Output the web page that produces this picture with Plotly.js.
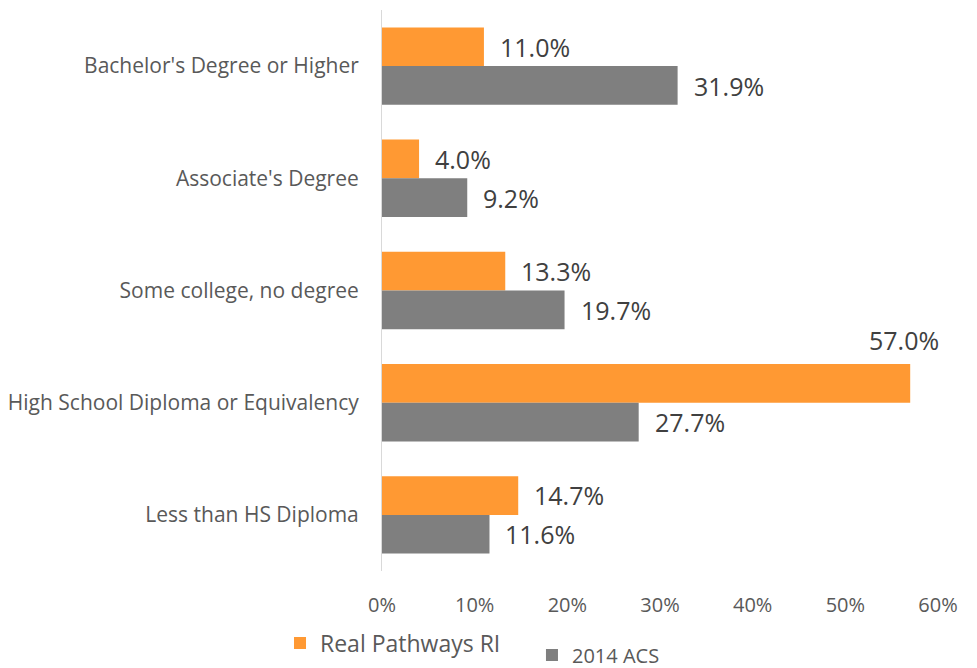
<!DOCTYPE html>
<html>
<head>
<meta charset="utf-8">
<script src="https://cdn.plot.ly/plotly-3.0.1.min.js"></script>
<style>html,body{margin:0;padding:0;background:#fff;}#chart{width:977px;height:668px;}</style>
</head>
<body>
<div id="chart"></div>
<script>
const categories = ["Bachelor's Degree or Higher", "Associate's Degree", "Some college, no degree", "High School Diploma or Equivalency", "Less than HS Diploma"];
const realPathways = [11.0, 4.0, 13.3, 57.0, 14.7];
const acs2014 = [31.9, 9.2, 19.7, 27.7, 11.6];
const seriesNames = ["Real Pathways RI", "2014 ACS"];
const xTicks = [0, 10, 20, 30, 40, 50, 60];

const ORANGE = '#FF9933';
const GRAY = '#7F7F7F';
const FONT = '"Open Sans", "DejaVu Sans", sans-serif';

const traces = [
  {type: 'bar', orientation: 'h', name: seriesNames[0], y: categories, x: realPathways,
   marker: {color: ORANGE}, hoverinfo: 'x+y', legend: 'legend'},
  {type: 'bar', orientation: 'h', name: seriesNames[1], y: categories, x: acs2014,
   marker: {color: GRAY}, hoverinfo: 'x+y', legend: 'legend2'}
];

const annotations = [];
const labelFont = {family: FONT, size: 25, color: '#404040'};
realPathways.forEach((v, i) => {
  const above = v > 50;
  annotations.push({x: v, y: categories[i], xref: 'x', yref: 'y', text: v.toFixed(1) + '%',
    showarrow: false, font: labelFont,
    xanchor: above ? 'center' : 'left', xshift: above ? -6 : 14,
    yshift: above ? 63 : 19.5});
});
acs2014.forEach((v, i) => {
  annotations.push({x: v, y: categories[i], xref: 'x', yref: 'y', text: v.toFixed(1) + '%',
    showarrow: false, font: labelFont, xanchor: 'left', xshift: 14, yshift: -19.5});
});

const layout = {
  width: 977, height: 668,
  margin: {l: 382, r: 39, t: 10, b: 97, autoexpand: false},
  paper_bgcolor: '#ffffff', plot_bgcolor: '#ffffff',
  font: {family: FONT, color: '#595959'},
  barmode: 'group', bargap: 0.31, bargroupgap: 0,
  xaxis: {range: [0, 60], tickvals: xTicks, ticktext: xTicks.map(t => t + '%'),
    showgrid: false, zeroline: false, showline: false, ticks: '',
    ticklabelstandoff: 20, tickfont: {family: FONT, size: 20, color: '#595959'}, fixedrange: true},
  yaxis: {autorange: 'reversed', type: 'category', showline: true, linecolor: '#d9d9d9', linewidth: 1,
    showgrid: false, zeroline: false, ticks: '', ticklabelstandoff: 18,
    tickfont: {family: FONT, size: 21, color: '#595959'}},
  showlegend: true,
  legend: {orientation: 'h', xref: 'container', yref: 'container', x: 0.2866, xanchor: 'left', y: 0.0374, yanchor: 'middle',
    font: {family: FONT, size: 23, color: '#595959'}, bgcolor: 'rgba(0,0,0,0)'},
  legend2: {orientation: 'h', xref: 'container', yref: 'container', x: 0.5445, xanchor: 'left', y: 0.0195, yanchor: 'middle',
    font: {family: FONT, size: 20, color: '#595959'}, bgcolor: 'rgba(0,0,0,0)'},
  annotations: annotations
};

Plotly.newPlot('chart', traces, layout, {displayModeBar: false, staticPlot: true});
</script>
</body>
</html>
